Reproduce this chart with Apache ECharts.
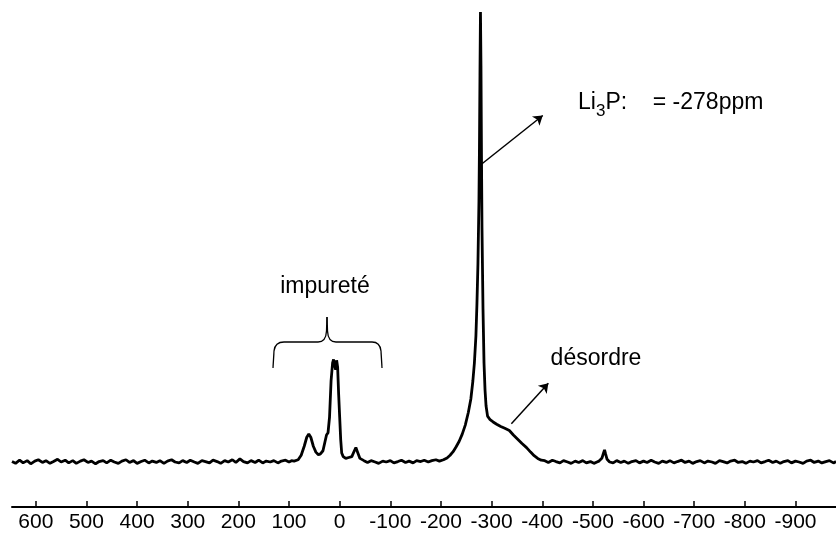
<!DOCTYPE html>
<html>
<head>
<meta charset="utf-8">
<script src="https://cdn.jsdelivr.net/npm/echarts@6/dist/echarts.min.js"></script>
<style>
  html, body { margin: 0; padding: 0; background: #fff; }
  #spectre { width: 836px; height: 533px; }
</style>
</head>
<body>
<div id="spectre"></div>
<script>
// ligne de base gauche (ppm, intensite)
const baseGauche = [
  [647, 0.1], [640, -0.3], [632, 0.4], [625, -0.2], [617, 0.3], [610, -0.4], [602, 0.2], [595, 0.5],
  [587, -0.1], [580, 0.3], [572, -0.3], [565, 0.1], [557, 0.6], [550, 0.0], [542, 0.4], [535, -0.2],
  [527, 0.3], [520, -0.3], [512, 0.2], [505, 0.5], [497, -0.1], [490, 0.2], [482, -0.4], [475, 0.1],
  [467, 0.3], [460, -0.2], [452, 0.4], [445, 0.0], [437, -0.3], [430, 0.2], [422, 0.5], [415, -0.1],
  [407, 0.3], [400, -0.3], [392, 0.1], [385, 0.4], [377, -0.2], [370, 0.2], [362, -0.1], [355, 0.3],
  [347, -0.3], [340, 0.2], [332, 0.5], [325, 0.0], [317, -0.2], [310, 0.3], [302, -0.1], [295, 0.4],
  [287, 0.0], [280, -0.3], [272, 0.3], [265, 0.1], [257, -0.2], [250, 0.4], [242, 0.1], [235, -0.3],
  [227, 0.3], [220, 0.0], [212, 0.5], [205, -0.1], [197, 0.7], [190, 0.1], [182, -0.2], [175, 0.3],
  [167, -0.1], [160, 0.4], [152, -0.2], [145, 0.2], [137, 0.0], [130, 0.3], [122, -0.2], [115, 0.2],
  [107, 0.4], [100, 0.0], [95, 0.3]
];

// zone des impuretes
const impurete = [
  [90, 0.2], [82, 0.5], [76, 1.5], [70, 3.5], [65, 5.5], [61, 6.2], [57, 5.5], [52, 3.5],
  [47, 2.2], [42, 1.6], [38, 1.8], [33, 2.5], [29, 4.5], [26, 6.0], [23, 6.5], [20, 10],
  [17, 18], [14, 22], [12, 22.8], [10, 21.5], [8, 20.5], [6, 22.6], [4, 21], [2, 15],
  [0, 10], [-2, 5], [-4, 2], [-7, 1.2], [-12, 0.8], [-18, 1.0], [-24, 1.2], [-29, 2.5],
  [-32, 3.2], [-35, 2.3], [-40, 0.8]
];

// ligne de base centrale
const baseCentre = [
  [-48, 0.3], [-55, -0.1], [-62, 0.3], [-70, 0.0], [-77, -0.3], [-85, 0.2], [-92, 0.0], [-100, 0.3],
  [-107, -0.2], [-115, 0.1], [-122, 0.4], [-130, -0.1], [-137, 0.2], [-145, -0.2], [-152, 0.3],
  [-160, 0.1], [-167, 0.4], [-175, 0.0], [-182, 0.3], [-190, 0.5], [-197, 0.2]
];

// pic principal Li3P + desordre
const picLi3P = [
  [-205, 0.5], [-212, 0.9], [-218, 1.5], [-224, 2.3], [-230, 3.4], [-236, 4.6], [-242, 6.2], [-248, 8.2],
  [-254, 11], [-259, 14], [-263, 18], [-266, 22], [-269, 28], [-271, 35], [-273, 44], [-275, 58],
  [-276, 70], [-277, 86], [-278, 100], [-279, 88], [-280, 68], [-281, 52], [-283, 34], [-285, 22],
  [-287, 16], [-289, 12.5], [-292, 10.2], [-297, 9.4], [-303, 8.9], [-310, 8.4], [-318, 7.9],
  [-326, 7.5], [-335, 7.0], [-343, 6.0], [-352, 5.0], [-360, 4.1], [-369, 3.2], [-377, 2.2],
  [-384, 1.4], [-391, 0.8], [-398, 0.4]
];

// ligne de base droite (avec petit pic vers -523)
const baseDroite = [
  [-405, 0.3], [-412, -0.1], [-420, 0.4], [-427, 0.1], [-435, -0.2], [-442, 0.3], [-450, 0.0], [-457, -0.3],
  [-465, 0.2], [-472, -0.1], [-480, 0.3], [-487, -0.2], [-495, 0.1], [-502, -0.3], [-508, 0.0],
  [-512, 0.2], [-518, 0.9], [-521, 2.0], [-523, 2.7], [-525, 1.8], [-528, 0.6], [-533, 0.0],
  [-540, -0.2], [-547, 0.3], [-555, -0.1], [-562, 0.2], [-570, -0.3], [-577, 0.1], [-585, 0.3],
  [-592, -0.2], [-600, 0.2], [-607, -0.1], [-615, 0.4], [-622, 0.0], [-630, -0.3], [-637, 0.2],
  [-645, -0.1], [-652, 0.3], [-660, -0.2], [-667, 0.1], [-675, 0.4], [-682, -0.1], [-690, 0.2],
  [-697, -0.3], [-705, 0.1], [-712, 0.3], [-720, -0.2], [-727, 0.2], [-735, 0.0], [-742, -0.3],
  [-750, 0.3], [-757, 0.1], [-765, -0.2], [-772, 0.2], [-780, 0.4], [-787, -0.1], [-795, 0.1],
  [-802, -0.3], [-810, 0.2], [-817, 0.0], [-825, 0.3], [-832, -0.2], [-840, 0.1], [-847, 0.4],
  [-855, -0.1], [-862, 0.2], [-870, -0.3], [-877, 0.1], [-885, 0.3], [-892, -0.2], [-900, 0.2],
  [-907, 0.0], [-915, -0.3], [-922, 0.2], [-930, 0.4], [-937, -0.1], [-945, 0.2], [-952, -0.2],
  [-960, 0.1], [-967, 0.3], [-975, -0.2], [-980, 0.1]
];

const graduations = [600, 500, 400, 300, 200, 100, 0, -100, -200, -300, -400, -500, -600, -700, -800, -900];

// fleches (debut -> fin, en ppm / intensite)
const flecheLi3P = [[-278, 66], [-401, 77]];
const flecheDesordre = [[-339, 8.5], [-412, 17.5]];

const spectre = [].concat(baseGauche, impurete, baseCentre, picLi3P, baseDroite);

const police = '"Liberation Sans", Arial, Helvetica, sans-serif';
const chart = echarts.init(document.getElementById('spectre'));

const trait = { stroke: '#000', lineWidth: 1.3, fill: 'none' };
function segment(x1, y1, x2, y2) {
  return { type: 'line', shape: { x1: x1, y1: y1, x2: x2, y2: y2 }, style: trait };
}
function courbe(x1, y1, cx, cy, x2, y2) {
  return { type: 'bezierCurve', shape: { x1: x1, y1: y1, cpx1: cx, cpy1: cy, x2: x2, y2: y2 }, style: trait };
}

// accolade au-dessus des impuretes
const accolade = [
  segment(273, 368, 274, 351),
  courbe(274, 351, 275, 342, 284, 342),
  segment(284, 342, 318, 342),
  courbe(318, 342, 326, 342, 326.5, 331),
  segment(326.5, 331, 327, 317),
  segment(327, 317, 327.5, 331),
  courbe(327.5, 331, 328, 342, 336, 342),
  segment(336, 342, 372, 342),
  courbe(372, 342, 380, 342, 381, 351),
  segment(381, 351, 382, 368)
];

const option = {
  animation: false,
  backgroundColor: '#fff',
  grid: { left: 12, right: 0, top: 12, bottom: 26 },
  xAxis: {
    type: 'value',
    inverse: true,
    min: -980,
    max: 647,
    axisLine: { show: true, onZero: false, lineStyle: { color: '#000', width: 2 } },
    axisTick: { show: true, inside: true, length: 6, customValues: graduations, lineStyle: { color: '#000', width: 1.5 } },
    axisLabel: { show: true, customValues: graduations, margin: 5, color: '#000', fontSize: 21, fontFamily: police },
    splitLine: { show: false }
  },
  yAxis: {
    type: 'value',
    show: false,
    min: -10,
    max: 100,
    splitLine: { show: false }
  },
  series: [{
    type: 'line',
    data: spectre,
    showSymbol: false,
    symbol: 'none',
    sampling: 'none',
    lineStyle: { color: '#000', width: 2.8 },
    markLine: {
      silent: true,
      animation: false,
      symbol: ['none', 'arrow'],
      symbolSize: 9,
      label: { show: false },
      lineStyle: { color: '#000', width: 1.5, type: 'solid' },
      data: [
        [{ coord: flecheLi3P[0] }, { coord: flecheLi3P[1] }],
        [{ coord: flecheDesordre[0] }, { coord: flecheDesordre[1] }]
      ]
    }
  }],
  graphic: [
    {
      type: 'text', x: 325, y: 287,
      style: { text: 'impureté', font: '23px ' + police, fill: '#000', textAlign: 'center', textVerticalAlign: 'middle' }
    },
    {
      type: 'text', x: 596, y: 359,
      style: { text: 'désordre', font: '23px ' + police, fill: '#000', textAlign: 'center', textVerticalAlign: 'middle' }
    },
    {
      type: 'group', x: 578, y: 103,
      children: [
        { type: 'text', x: 0, y: 0, style: { text: 'Li', font: '23px ' + police, fill: '#000', textAlign: 'left', textVerticalAlign: 'middle' } },
        { type: 'text', x: 18, y: 8, style: { text: '3', font: '17px ' + police, fill: '#000', textAlign: 'left', textVerticalAlign: 'middle' } },
        { type: 'text', x: 27.5, y: 0, style: { text: 'P:    = -278ppm', font: '23px ' + police, fill: '#000', textAlign: 'left', textVerticalAlign: 'middle' } }
      ]
    },
    { type: 'group', children: accolade }
  ]
};

chart.setOption(option);
</script>
</body>
</html>
